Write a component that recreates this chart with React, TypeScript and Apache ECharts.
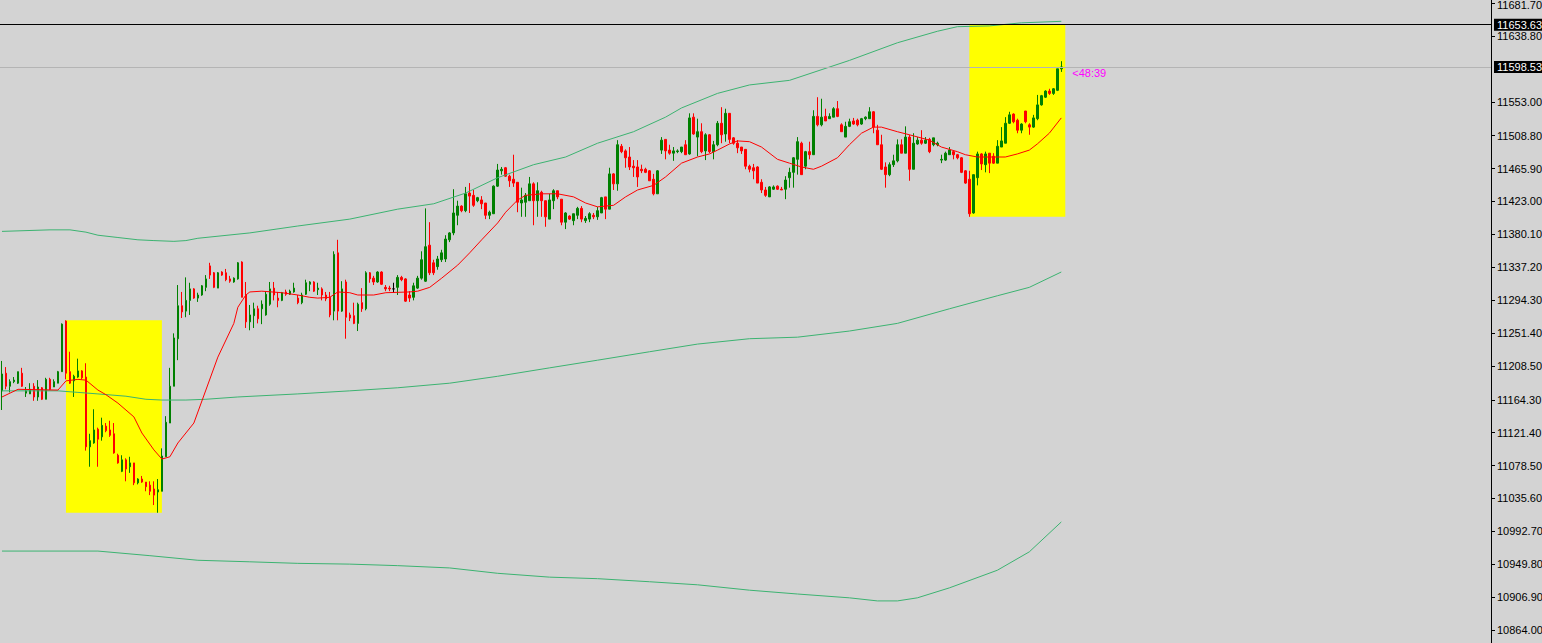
import React, { useEffect, useRef } from "react";
import * as echarts from "echarts";

// ---- DATA ----
// candles: [open, close, low, high]
const candles: number[][] = [
  [11176, 11198, 11151, 11215], [11199, 11182, 11178, 11207], [11182, 11188, 11174, 11191], [11188, 11190, 11186, 11194],
  [11186, 11201, 11185, 11201], [11199, 11182, 11181, 11206], [11173, 11176, 11168, 11181], [11172, 11178, 11172, 11186],
  [11182, 11168, 11163, 11186], [11168, 11181, 11163, 11190], [11180, 11165, 11164, 11181], [11165, 11191, 11165, 11193],
  [11191, 11178, 11177, 11193], [11181, 11188, 11181, 11191], [11186, 11201, 11186, 11202], [11201, 11263, 11201, 11264],
  [11267, 11199, 11191, 11268], [11201, 11186, 11185, 11227], [11189, 11195, 11168, 11197], [11194, 11202, 11193, 11218],
  [11202, 11193, 11191, 11203], [11194, 11103, 11098, 11212], [11103, 11111, 11077, 11120], [11108, 11125, 11107, 11152],
  [11126, 11113, 11077, 11128], [11116, 11131, 11111, 11141], [11130, 11124, 11122, 11134], [11125, 11118, 11116, 11137],
  [11120, 11095, 11094, 11134], [11092, 11082, 11081, 11094], [11071, 11086, 11070, 11092], [11086, 11074, 11058, 11088],
  [11077, 11082, 11069, 11090], [11082, 11056, 11053, 11082], [11056, 11061, 11054, 11062], [11061, 11057, 11056, 11065],
  [11057, 11051, 11045, 11057], [11053, 11045, 11040, 11058], [11048, 11040, 11027, 11058], [11044, 11047, 11017, 11061],
  [11045, 11091, 11045, 11101], [11090, 11135, 11090, 11143], [11134, 11182, 11134, 11206], [11182, 11245, 11182, 11251],
  [11244, 11287, 11216, 11314], [11287, 11279, 11271, 11305], [11280, 11294, 11272, 11324], [11294, 11309, 11275, 11317],
  [11309, 11297, 11296, 11310], [11297, 11301, 11292, 11304], [11301, 11313, 11300, 11314], [11311, 11322, 11306, 11327],
  [11339, 11327, 11322, 11343], [11330, 11311, 11310, 11331], [11310, 11330, 11310, 11331], [11331, 11327, 11326, 11332],
  [11330, 11321, 11319, 11335], [11322, 11319, 11317, 11326], [11318, 11323, 11317, 11324], [11322, 11343, 11321, 11344],
  [11344, 11298, 11298, 11345], [11301, 11266, 11258, 11318], [11266, 11275, 11255, 11288], [11274, 11283, 11258, 11291],
  [11283, 11270, 11264, 11287], [11283, 11289, 11263, 11294], [11275, 11302, 11274, 11306], [11289, 11309, 11287, 11318],
  [11310, 11301, 11294, 11318], [11297, 11294, 11285, 11305], [11294, 11304, 11293, 11305], [11305, 11302, 11300, 11308],
  [11302, 11306, 11301, 11308], [11305, 11310, 11304, 11317], [11297, 11291, 11289, 11301], [11291, 11301, 11289, 11304],
  [11302, 11317, 11301, 11321], [11315, 11318, 11306, 11319], [11318, 11306, 11305, 11319], [11308, 11310, 11301, 11317],
  [11309, 11301, 11294, 11311], [11301, 11296, 11293, 11305], [11298, 11275, 11272, 11305], [11280, 11354, 11268, 11358],
  [11356, 11280, 11268, 11373], [11280, 11309, 11279, 11319], [11318, 11272, 11244, 11321], [11275, 11271, 11267, 11278],
  [11274, 11264, 11263, 11291], [11264, 11289, 11254, 11291], [11291, 11283, 11279, 11310], [11283, 11330, 11281, 11332],
  [11330, 11322, 11317, 11331], [11323, 11318, 11314, 11326], [11318, 11331, 11317, 11332], [11331, 11315, 11314, 11332],
  [11311, 11309, 11306, 11314], [11310, 11309, 11306, 11313], [11309, 11309, 11304, 11317], [11311, 11324, 11301, 11327],
  [11324, 11321, 11319, 11326], [11322, 11293, 11292, 11323], [11301, 11297, 11292, 11306], [11298, 11313, 11294, 11317],
  [11310, 11323, 11309, 11326], [11323, 11347, 11321, 11358], [11319, 11364, 11318, 11414], [11366, 11330, 11327, 11396],
  [11343, 11330, 11327, 11347], [11338, 11348, 11334, 11352], [11347, 11356, 11344, 11360], [11348, 11374, 11344, 11379],
  [11373, 11382, 11370, 11383], [11382, 11408, 11379, 11439], [11405, 11417, 11392, 11424], [11417, 11411, 11409, 11418],
  [11411, 11433, 11409, 11442], [11434, 11430, 11408, 11447], [11431, 11418, 11416, 11438], [11424, 11428, 11422, 11429],
  [11425, 11420, 11413, 11430], [11421, 11405, 11400, 11421], [11405, 11409, 11400, 11411], [11407, 11443, 11407, 11444],
  [11443, 11464, 11442, 11472], [11463, 11465, 11458, 11468], [11467, 11456, 11455, 11468], [11456, 11450, 11442, 11458],
  [11452, 11447, 11442, 11484], [11448, 11422, 11409, 11448], [11421, 11425, 11403, 11441], [11422, 11431, 11403, 11434],
  [11424, 11446, 11424, 11455], [11446, 11424, 11392, 11448], [11424, 11437, 11403, 11448], [11435, 11424, 11403, 11437],
  [11424, 11403, 11390, 11424], [11400, 11425, 11400, 11433], [11424, 11437, 11413, 11439], [11437, 11429, 11426, 11437],
  [11426, 11396, 11392, 11426], [11396, 11408, 11387, 11409], [11404, 11400, 11399, 11405], [11398, 11407, 11392, 11407],
  [11405, 11414, 11400, 11416], [11414, 11400, 11396, 11417], [11398, 11401, 11395, 11404], [11400, 11407, 11396, 11409],
  [11405, 11403, 11400, 11408], [11403, 11411, 11399, 11416], [11408, 11428, 11408, 11429], [11429, 11413, 11400, 11429],
  [11413, 11459, 11413, 11467], [11459, 11446, 11438, 11460], [11446, 11497, 11437, 11503], [11495, 11488, 11486, 11498],
  [11489, 11480, 11467, 11491], [11481, 11468, 11464, 11494], [11469, 11467, 11455, 11477], [11468, 11455, 11442, 11477],
  [11465, 11463, 11460, 11471], [11465, 11461, 11460, 11467], [11463, 11450, 11450, 11464], [11452, 11433, 11431, 11459],
  [11433, 11463, 11433, 11464], [11490, 11503, 11485, 11507], [11504, 11489, 11478, 11504], [11490, 11486, 11484, 11497],
  [11486, 11489, 11476, 11494], [11488, 11489, 11486, 11491], [11488, 11494, 11486, 11494], [11497, 11484, 11484, 11503],
  [11485, 11532, 11484, 11538], [11533, 11511, 11510, 11538], [11507, 11514, 11482, 11531], [11514, 11488, 11486, 11525],
  [11489, 11510, 11477, 11512], [11510, 11488, 11486, 11511], [11488, 11497, 11478, 11502], [11497, 11525, 11495, 11528],
  [11525, 11510, 11499, 11546], [11511, 11538, 11501, 11544], [11538, 11504, 11499, 11538], [11506, 11499, 11497, 11507],
  [11499, 11493, 11486, 11503], [11494, 11489, 11485, 11494], [11491, 11469, 11465, 11491], [11469, 11465, 11461, 11471],
  [11467, 11463, 11452, 11472], [11468, 11447, 11447, 11469], [11448, 11438, 11434, 11452], [11438, 11431, 11429, 11442],
  [11429, 11442, 11429, 11443], [11439, 11442, 11438, 11444], [11443, 11439, 11438, 11444], [11439, 11438, 11438, 11442],
  [11439, 11451, 11426, 11456], [11454, 11461, 11441, 11467], [11461, 11480, 11441, 11481], [11478, 11501, 11458, 11507],
  [11499, 11458, 11458, 11501], [11469, 11488, 11465, 11489], [11488, 11484, 11478, 11501], [11484, 11534, 11484, 11542],
  [11534, 11523, 11521, 11559], [11523, 11533, 11521, 11557], [11534, 11528, 11528, 11544], [11531, 11534, 11531, 11538],
  [11533, 11544, 11533, 11546], [11544, 11534, 11533, 11554], [11523, 11514, 11514, 11525], [11507, 11521, 11507, 11527],
  [11521, 11527, 11520, 11531], [11528, 11524, 11523, 11532], [11529, 11523, 11521, 11531], [11524, 11531, 11523, 11532],
  [11531, 11533, 11529, 11534], [11531, 11540, 11531, 11546], [11540, 11520, 11512, 11541], [11516, 11497, 11497, 11523],
  [11497, 11465, 11464, 11510], [11468, 11458, 11441, 11474], [11458, 11471, 11456, 11474], [11471, 11476, 11468, 11484],
  [11476, 11497, 11474, 11504], [11497, 11486, 11486, 11504], [11486, 11507, 11486, 11521], [11507, 11465, 11450, 11510],
  [11465, 11499, 11465, 11512], [11498, 11503, 11497, 11507], [11503, 11499, 11497, 11516], [11499, 11503, 11498, 11507],
  [11504, 11488, 11486, 11506], [11497, 11506, 11495, 11506], [11497, 11499, 11495, 11501], [11477, 11478, 11473, 11484],
  [11477, 11486, 11476, 11488], [11484, 11490, 11484, 11494], [11488, 11484, 11478, 11489], [11484, 11480, 11478, 11485],
  [11480, 11461, 11460, 11481], [11463, 11447, 11446, 11464], [11452, 11407, 11403, 11463], [11408, 11458, 11407, 11458],
  [11454, 11485, 11444, 11488], [11485, 11472, 11464, 11486], [11471, 11485, 11461, 11488], [11486, 11473, 11460, 11486],
  [11482, 11473, 11472, 11486], [11473, 11495, 11473, 11503], [11494, 11502, 11494, 11520], [11499, 11525, 11499, 11533],
  [11525, 11536, 11524, 11540], [11537, 11527, 11525, 11538], [11529, 11516, 11512, 11531], [11516, 11524, 11512, 11525],
  [11541, 11527, 11525, 11541], [11523, 11520, 11510, 11525], [11520, 11532, 11519, 11536], [11531, 11549, 11529, 11562],
  [11549, 11561, 11548, 11562], [11559, 11567, 11558, 11568], [11567, 11564, 11562, 11570], [11564, 11570, 11562, 11571],
  [11568, 11596, 11567, 11596], [11596, 11598.53, 11592, 11606],
];

// moving average (red) read at sampled bars: [barIndex, value]
const maLine: number[][] = [
  [0, 11168], [4, 11178], [14, 11177], [16, 11189], [19, 11191], [21, 11190], [24, 11177], [26, 11171], [29, 11160],
  [33, 11142], [35, 11121], [38, 11099], [40, 11087], [42, 11090], [44, 11108], [48, 11134], [51, 11177], [54, 11220],
  [58, 11264], [59, 11285], [61, 11301], [62, 11305], [65, 11306], [70, 11304], [74, 11301], [77, 11298], [79, 11297],
  [82, 11298], [84, 11305], [87, 11304], [89, 11301], [93, 11301], [96, 11304], [102, 11305], [104, 11306], [107, 11311],
  [110, 11323], [114, 11340], [117, 11356], [120, 11373], [124, 11395], [126, 11409], [129, 11425], [131, 11431],
  [135, 11433], [139, 11433], [143, 11429], [146, 11421], [149, 11416], [153, 11418], [156, 11429], [159, 11438],
  [163, 11444], [166, 11455], [170, 11473], [174, 11481], [177, 11485], [179, 11490], [182, 11498], [184, 11502],
  [187, 11501], [190, 11494], [194, 11478], [197, 11473], [200, 11468], [203, 11465], [205, 11469], [209, 11480],
  [212, 11497], [215, 11512], [218, 11520], [220, 11520], [224, 11514], [227, 11510], [232, 11503], [235, 11494],
  [239, 11488], [241, 11484], [244, 11481], [247, 11481], [251, 11481], [254, 11485], [257, 11490], [259, 11498],
  [262, 11512], [265, 11532],
];

const upperBand: number[][] = [
  [0, 11384], [12, 11386], [17, 11386], [21, 11383], [24, 11379], [29, 11376], [34, 11373], [38, 11372], [43, 11371],
  [46, 11372], [49, 11375], [62, 11382], [74, 11391], [87, 11400], [99, 11413], [108, 11420], [116, 11434], [124, 11454],
  [133, 11471], [141, 11481], [149, 11499], [158, 11514], [166, 11533], [170, 11545], [179, 11564], [187, 11575],
  [197, 11581], [212, 11607], [224, 11630], [234, 11645], [239, 11651], [247, 11652], [255, 11656], [265, 11658],
];

const middleBand: number[][] = [
  [0, 11176], [14, 11176], [19, 11174], [24, 11172], [31, 11169], [36, 11165], [40, 11164], [46, 11164], [51, 11165],
  [59, 11168], [74, 11172], [87, 11176], [99, 11180], [112, 11186], [124, 11195], [137, 11206], [149, 11216],
  [162, 11227], [174, 11237], [187, 11244], [199, 11246], [212, 11254], [224, 11264], [237, 11283], [249, 11300],
  [257, 11311], [265, 11331],
];

const lowerBand: number[][] = [
  [0, 10967], [24, 10967], [37, 10961], [49, 10955], [62, 10953], [74, 10951], [87, 10950], [99, 10948], [112, 10945],
  [124, 10938], [137, 10933], [149, 10931], [162, 10927], [174, 10923], [187, 10916], [199, 10911], [212, 10906],
  [219, 10902], [224, 10902], [229, 10906], [237, 10919], [249, 10942], [257, 10966], [265, 11005],
];

const yTickLabels: number[] = [
  11681.7, 11638.8, 11553.0, 11508.8, 11465.9, 11423.0, 11380.1, 11337.2, 11294.3, 11251.4, 11208.5, 11164.3,
  11121.4, 11078.5, 11035.6, 10992.7, 10949.8, 10906.9, 10864.0,
];

const priceLines = { hLine: 11653.63, bid: 11598.53 };
const timerText = "<48:39";
const boxes = [
  { from: 16, to: 40, top: 11268, bottom: 11017 },
  { from: 242, to: 266, top: 11654, bottom: 11403 },
];
const slotCount = 373;
const yMin = 10847.1;
const yMax = 11685.8;

const AXIS_FONT = "'Liberation Sans Narrow', 'Liberation Sans', Arial, sans-serif";

export default function App() {
  const ref = useRef<HTMLDivElement>(null);
  useEffect(() => {
    if (!ref.current) return;
    const chart = echarts.init(ref.current, undefined, { renderer: "svg" });
    const categories = Array.from({ length: slotCount }, (_, i) => String(i));
    const topLabel = yTickLabels[0];
    const bandLine = (data: number[][]) => ({
      type: "line",
      data,
      showSymbol: false,
      symbol: "none",
      lineStyle: { color: "#3cb371", width: 1 },
      silent: true,
      z: 3,
    });
    chart.setOption({
      animation: false,
      backgroundColor: "#d3d3d3",
      grid: { left: 0, right: 51, top: 0, bottom: 0, containLabel: false, outerBoundsMode: "none" },
      xAxis: {
        type: "category",
        data: categories,
        boundaryGap: true,
        show: false,
      },
      yAxis: {
        type: "value",
        position: "right",
        min: yMin,
        max: yMax,
        axisLine: { show: true, lineStyle: { color: "#000", width: 1 } },
        axisTick: { show: true, length: 4, lineStyle: { color: "#000" }, customValues: yTickLabels },
        axisLabel: {
          show: true,
          customValues: yTickLabels,
          formatter: (v: number) =>
            Math.abs(v - topLabel) < 0.01 ? `{top|${v.toFixed(2)}}` : v.toFixed(2),
          color: "#000",
          fontSize: 11,
          fontFamily: AXIS_FONT,
          margin: 6,
          rich: {
            top: {
              color: "#000",
              fontSize: 11,
              fontFamily: AXIS_FONT,
              padding: [4, 0, 0, 0],
            },
          },
        },
        splitLine: { show: false },
      },
      series: [
        {
          type: "candlestick",
          data: candles,
          barWidth: 2,
          z: 2,
          itemStyle: {
            color: "#008000",
            color0: "#ff0000",
            borderColor: "#008000",
            borderColor0: "#ff0000",
            borderColorDoji: "#000000",
            borderWidth: 1,
          },
          markArea: {
            silent: true,
            itemStyle: { color: "#ffff00", opacity: 1 },
            data: boxes.map((b) => [
              { xAxis: b.from, yAxis: b.top },
              { xAxis: b.to, yAxis: b.bottom },
            ]),
          },
          markLine: {
            silent: true,
            symbol: ["none", "none"],
            animation: false,
            data: [
              {
                yAxis: priceLines.hLine,
                lineStyle: { color: "#000", width: 1, type: "solid" },
                label: {
                  show: true,
                  position: "end",
                  distance: 3,
                  formatter: priceLines.hLine.toFixed(2),
                  backgroundColor: "#000",
                  color: "#fff",
                  fontSize: 11,
                  fontFamily: AXIS_FONT,
                  padding: [1, 3, 0, 3],
                },
              },
              {
                yAxis: priceLines.bid,
                lineStyle: { color: "#b4b4b4", width: 1, type: "solid" },
                label: {
                  show: true,
                  position: "end",
                  distance: 3,
                  formatter: priceLines.bid.toFixed(2),
                  backgroundColor: "#000",
                  color: "#fff",
                  fontSize: 11,
                  fontFamily: AXIS_FONT,
                  padding: [1, 3, 0, 3],
                },
              },
            ],
          },
          markPoint: {
            silent: true,
            symbol: "circle",
            symbolSize: 0,
            data: [
              {
                coord: [candles.length - 1, priceLines.bid],
                label: {
                  show: true,
                  position: "right",
                  distance: 11,
                  offset: [0, 6],
                  formatter: timerText,
                  color: "#ff00ff",
                  fontSize: 11,
                  fontFamily: "'Liberation Sans', Arial, sans-serif",
                },
              },
            ],
          },
        },
        bandLine(upperBand),
        bandLine(middleBand),
        bandLine(lowerBand),
        {
          type: "line",
          data: maLine,
          showSymbol: false,
          symbol: "none",
          lineStyle: { color: "#ff0000", width: 1 },
          silent: true,
          z: 4,
        },
      ],
    });
    return () => chart.dispose();
  }, []);
  return (
    <div
      ref={ref}
      style={{ position: "fixed", left: 0, top: 0, width: 1542, height: 643 }}
    />
  );
}
